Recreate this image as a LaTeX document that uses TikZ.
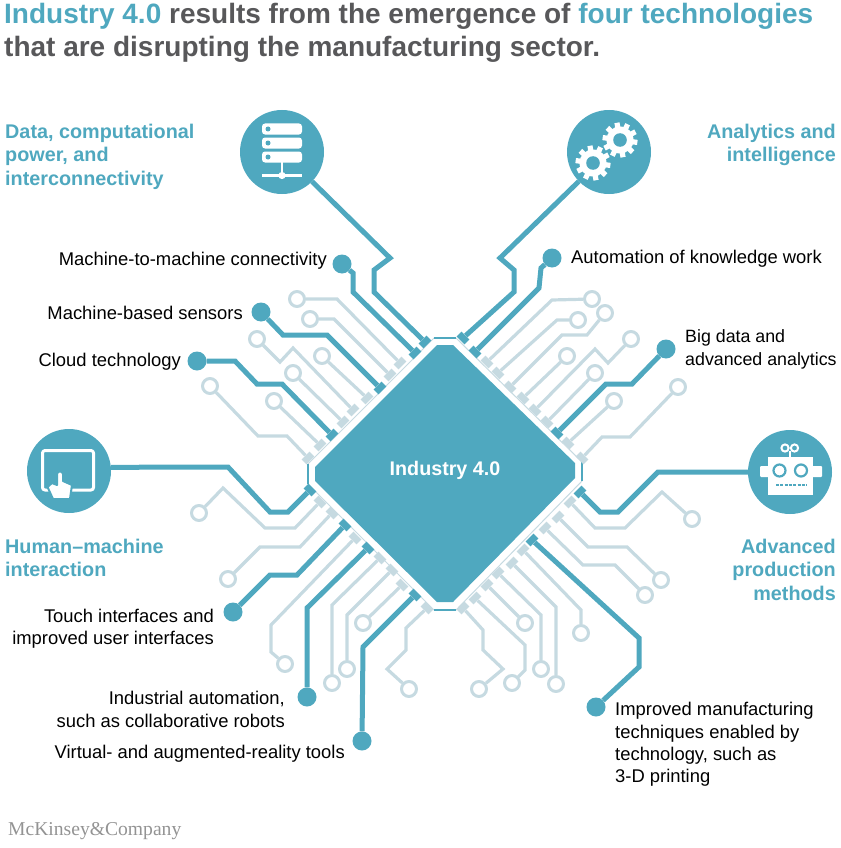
\documentclass[tikz,border=0pt]{standalone}
\usepackage{fontspec}
\setmainfont{Liberation Sans}
\newfontfamily\mckfont{Liberation Serif}
\definecolor{tealc}{HTML}{4FA8BF}
\definecolor{pale}{HTML}{C6DAE1}
\definecolor{titlegray}{HTML}{58585A}
\tikzset{
	trace/.style={tealc,line width=5pt,line join=miter},
	lite/.style={pale,line width=3.2pt,line join=miter},
	pad/.style={circle,fill=tealc,inner sep=0pt,minimum size=19pt},
	ring/.style={circle,draw=pale,line width=3pt,fill=white,inner sep=0pt,minimum size=15pt},
	dfoot/.style={fill=tealc,inner sep=0pt,minimum width=11pt,minimum height=7pt},
	lfoot/.style={fill=pale,inner sep=0pt,minimum width=11pt,minimum height=7pt},
	icon/.style={circle,fill=tealc,inner sep=0pt,minimum size=84pt},
	head/.style={font=\fontsize{19.8}{23.6}\selectfont\bfseries,text=tealc},
	lab/.style={font=\fontsize{18.4}{22.3}\selectfont,text=black,inner sep=0pt},
	headline/.style={font=\fontsize{28}{33}\selectfont\bfseries,text=titlegray,inner sep=0pt,anchor=west},
}
\begin{document}
\begin{tikzpicture}[x=1pt,y=-1pt,line join=round,line cap=butt]
	\useasboundingbox (0,0) rectangle (840,848);
	\node[headline] (title1) at (4,16) {\textcolor{tealc}{Industry 4.0} results from the emergence of \textcolor{tealc}{four technologies}};
	\node[headline] (title2) at (4,49) {that are disrupting the manufacturing sector.};

	% chip
	\draw[pale,line width=1pt] (434,338)--(456,338)--(582,462)--(582,481)--(456,610)--(434,610)--(308,484)--(308,464)--cycle;
	\draw[tealc,line width=2.5pt] (434,338)--(456,338) (582,462)--(582,481) (456,610)--(434,610) (308,484)--(308,464);
	\fill[tealc] (437,345)--(453,345)--(575,463)--(575,478)--(453,602)--(437,602)--(315,481)--(315,467)--cycle;
	\node[font=\fontsize{19.7}{22}\selectfont\bfseries,text=white,inner sep=0pt] (chip) at (445,470) {Industry 4.0};

	% icons
	\node[icon] (icdata) at (282,152) {};
	\node[icon] (icgear) at (609,152) {};
	\node[icon] (ictouch) at (69,471) {};
	\node[icon] (icrobot) at (790,472) {};

	% pads of the dark traces
	\foreach \n/\x/\y in {pm/342/264,ps/261/312,pc/197/361,pa/552/258,pb/666/349,pt/233/612,pi/307/697,pv/362/741,pp/596/707}
		\node[pad] (\n) at (\x,\y) {};
	% feet of the dark traces
	\foreach \n/\x/\y/\r in {fd/425/342/45,fm/415/353/45,fs/380/388/45,fc/332/435/45,fg/463/338/-45,fa/475/352/-45,fb/557/433/-45,
		ft/310/490/-45,fu/345/525/-45,fi/368/548/-45,fv/415/595/-45,fr/580/492/45,fp/532/540/45}
		\node[dfoot,rotate=\r] (\n) at (\x,\y) {};
	% rings of the pale traces
	\foreach \n/\x/\y in {r1/297/299,r2/310/319,r3/322/356,r4/257/339,r5/293/373,r6/274/401,r7/210/386,
		r8/592/299,r9/578/320,r10/605/313,r11/567/356,r12/631/339,r13/595/373,r14/614/401,r15/678/387,
		r16/692/519,r17/661/580,r18/645/595,r19/581/633,r20/556/684,r21/541/669,r22/525/623,r23/512/683,r24/479/689,
		r25/199/513,r26/228/579,r27/285/664,r28/332/683,r29/347/669,r30/363/623,r31/409/689}
		\node[ring] (\n) at (\x,\y) {};
	% feet of the pale traces
	\foreach \n/\x/\y/\r in {g1/400/363/45,g2/390/375/45,g3/367/398/45,g4/353/410/45,g5/343/422/45,g6/320/445/45,g7/308/458/45,
		g8/487/362/-45,g9/498/373/-45,g10/510/387/-45,g11/523/398/-45,g12/535/410/-45,g13/547/422/-45,g14/568/443/-45,g15/582/458/-45,
		g16/570/502/45,g17/558/517/45,g18/545/528/45,g19/523/550/45,g20/512/563/45,g21/498/573/45,g22/487/585/45,g23/475/598/45,g24/463/608/45,
		g25/320/502/-45,g26/332/513/-45,g27/355/538/-45,g28/380/558/-45,g29/392/570/-45,g30/402/585/-45,g31/427/608/-45}
		\node[lfoot,rotate=\r] (\n) at (\x,\y) {};

	\draw[lite] (r1)--(337,299)--(g1);
	\draw[lite] (r2)--(334,319)--(g2);
	\draw[lite] (r3)--(g3);
	\draw[lite] (r4)--(280,362)--(293,348)--(g4);
	\draw[lite] (r5)--(g5);
	\draw[lite] (r6)--(g6);
	\draw[lite] (r7)--(258,436)--(287,436)--(g7);
	\draw[lite] (r8)--(552,300)--(g8);
	\draw[lite] (r9)--(557,320)--(g9);
	\draw[lite] (r10)--(587,335)--(562,335)--(g10);
	\draw[lite] (r11)--(g11);
	\draw[lite] (r12)--(608,363)--(595,349)--(g12);
	\draw[lite] (r13)--(g13);
	\draw[lite] (r14)--(g14);
	\draw[lite] (r15)--(630,437)--(602,437)--(g15);
	\draw[lite] (r16)--(662,492)--(625,528)--(595,528)--(g16);
	\draw[lite] (r17)--(627,547)--(588,547)--(g17);
	\draw[lite] (r18)--(615,565)--(583,565)--(g18);
	\draw[lite] (r19)--(581,610)--(g19);
	\draw[lite] (r20)--(556,607)--(g20);
	\draw[lite] (r21)--(541,615)--(g21);
	\draw[lite] (r22)--(g22);
	\draw[lite] (r23)--(525,670)--(525,645)--(g23);
	\draw[lite] (r24)--(503,669)--(483,650)--(483,630)--(g24);
	\draw[lite] (r25)--(223,488)--(265,528)--(295,528)--(g25);
	\draw[lite] (r26)--(260,547)--(300,547)--(g26);
	\draw[lite] (r27)--(271,652)--(271,625)--(g27);
	\draw[lite] (r28)--(332,605)--(g28);
	\draw[lite] (r29)--(347,615)--(g29);
	\draw[lite] (r30)--(g30);
	\draw[lite] (r31)--(387,669)--(406,650)--(406,628)--(g31);

	\draw[trace] (icdata)--(390,258)--(374,270)--(374,292)--(fd);
	\draw[trace] (pm)--(353,273)--(353,292)--(fm);
	\draw[trace] (ps)--(283,335)--(327,335)--(fs);
	\draw[trace] (pc)--(235,361)--(257,384)--(282,384)--(fc);
	\draw[trace] (icgear)--(500,258)--(514,270)--(514,292)--(fg);
	\draw[trace] (pa)--(541,268)--(539,288)--(fa);
	\draw[trace] (pb)--(632,384)--(606,384)--(fb);
	\draw[trace] (ictouch.5.5)--(228,467)--(270,512)--(288,512)--(ft);
	\draw[trace] (pt)--(270,575)--(297,575)--(fu);
	\draw[trace] (pi)--(307,608)--(fi);
	\draw[trace] (pv)--(363,647)--(fv);
	\draw[trace] (icrobot)--(658,472)--(618,512)--(600,512)--(fr);
	\draw[trace] (pp)--(639,667)--(639,638)--(fp);

	% server
	\foreach \y in {129,143,157} {
		\fill[white,rounded corners=3pt] (262,\y-5.5) rectangle (302,\y+5.5);
		\fill[tealc] (268,\y) circle (2.5);
	}
	\draw[white,line width=2.5pt] (282,162)--(282,175) (262,175.5)--(302,175.5);
	\fill[white] (282,175.5) circle (3.6);

	% gears
	\foreach \cx/\cy in {620/140,593/163} {
		\foreach \a in {0,36,...,324}
			\fill[white,shift={(\cx,\cy)},rotate=\a+10] (-2.6,-17.5) rectangle (2.6,0);
		\fill[white] (\cx,\cy) circle (13.5);
		\fill[tealc] (\cx,\cy) circle (6.8);
	}

	% touch screen
	\draw[white,line width=3pt,rounded corners=2.5pt] (42.5,450.5) rectangle (93.5,490);
	\fill[white,draw=tealc,line width=2pt] (47.5,487)--(52,483)--(57,485)--(57,474)..controls (57.5,470.5) and (62.5,470.5)..(63,474)--(63,481)--(72,485)--(70,499)--(53,499)--cycle;

	% robot
	\fill[white] (768,457) rectangle (813,495);
	\fill[white,rounded corners=1pt] (760,466) rectangle (822,477);
	\draw[white,line width=2.2pt] (790,451)--(790,458);
	\draw[white,line width=2pt] (785,448) circle (3.6) (794.5,448) circle (3.6);
	\draw[tealc,line width=2.2pt] (779.5,470.5) circle (6) (801,470.5) circle (6);
	\draw[tealc,line width=1.8pt,dash pattern=on 3pt off 1.3pt] (776,485)--(807,485);

	% headings
	\node[head,align=left,anchor=north west,inner sep=0pt] (hdata) at (5,123.5) {Data, computational\\power, and\\interconnectivity};
	\node[head,align=right,anchor=north east,inner sep=0pt] (hgear) at (836,123.5) {Analytics and\\intelligence};
	\node[head,align=left,anchor=north west,inner sep=0pt] (htouch) at (5,538.5) {Human–machine\\interaction};
	\node[head,align=right,anchor=north east,inner sep=0pt] (hrobot) at (836,538.5) {Advanced\\production\\methods};

	% labels
	\node[lab,anchor=east] (lm) at (327,260.5) {Machine-to-machine connectivity};
	\node[lab,anchor=east] (ls) at (243,312.5) {Machine-based sensors};
	\node[lab,anchor=east] (lc) at (181,361.5) {Cloud technology};
	\node[lab,anchor=west] (la) at (571,258.5) {Automation of knowledge work};
	\node[lab,anchor=west,align=left,font=\fontsize{17.8}{22.3}\selectfont] (lb) at (685,349.5) {Big data and\\advanced analytics};
	\node[lab,anchor=east,align=right] (lt) at (214,628.5) {Touch interfaces and\\improved user interfaces};
	\node[lab,anchor=east,align=right] (li) at (285,709.5) {Industrial automation,\\such as collaborative robots};
	\node[lab,anchor=east] (lv) at (345,753.5) {Virtual- and augmented-reality tools};
	\node[lab,anchor=west,align=left] (lp) at (615,744.5) {Improved manufacturing\\techniques enabled by\\technology, such as\\3-D printing};

	\node[font=\mckfont\fontsize{19.6}{22}\selectfont,text=gray!85,inner sep=0pt,anchor=west] (brand) at (8,831) {McKinsey\&Company};
\end{tikzpicture}
\end{document}
